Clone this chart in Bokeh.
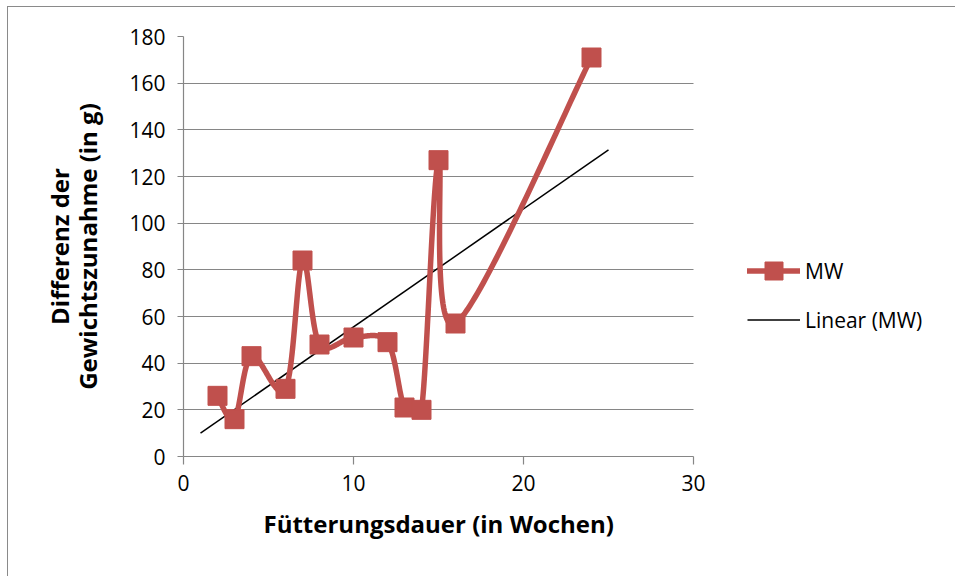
import numpy as np
from bokeh.plotting import figure
from bokeh.models import Legend, LegendItem, FixedTicker, Range1d, Title
from bokeh.embed import file_html
from bokeh.resources import INLINE

# ---- data ----
weeks = [2, 3, 4, 6, 7, 8, 10, 12, 13, 14, 15, 16, 24]
mw = [26, 16, 43, 29, 84, 48, 51, 49, 21, 20, 127, 57, 171]
trend_x = [1, 25]
trend_y = [10, 131.4]
x_ticks = [0, 10, 20, 30]
y_ticks = [0, 20, 40, 60, 80, 100, 120, 140, 160, 180]
x_title = "Fütterungsdauer (in Wochen)"
y_title = "Differenz der\nGewichtszunahme (in g)"
series_names = ["MW", "Linear (MW)"]

RED = "#C0504D"
GRID = "#868686"
FONT = "Open Sans"

W, H = 948, 570
ML, MT, MB = 175, 29, 121
AXIS_W = 510                      # pixel width of the 0..30 axis
X0, X1, Y0, Y1 = 0, 30, 0, 180
kx = AXIS_W / (X1 - X0)
ky = (H - MT - MB) / (Y1 - Y0)
X_END = (W - ML) / kx             # frame extends to the right edge so the legend is not clipped

# smoothed line (Bezier through the data points, with Excel-like limited control arms)
x = np.array(weeks, float) * kx
y = np.array(mw, float) * ky
n = len(x)
xp = np.concatenate([[x[0]], x, [x[-1]]])
yp = np.concatenate([[y[0]], y, [y[-1]]])
sx, sy = [], []
t = np.linspace(0, 1, 50)
for i in range(n - 1):
    p0 = np.array([xp[i + 1], yp[i + 1]])
    p3 = np.array([xp[i + 2], yp[i + 2]])
    seg = np.hypot(*(p3 - p0))
    a1 = (np.array([xp[i + 2], yp[i + 2]]) - np.array([xp[i], yp[i]])) / 6
    a2 = (np.array([xp[i + 3], yp[i + 3]]) - np.array([xp[i + 1], yp[i + 1]])) / 6
    lim = 0.4 * seg
    for a in (a1, a2):
        L = np.hypot(*a)
        if L > lim and L > 0:
            a *= lim / L
    c1 = p0 + a1
    c2 = p3 - a2
    b = ((1 - t) ** 3)[:, None] * p0 + (3 * (1 - t) ** 2 * t)[:, None] * c1 + \
        (3 * (1 - t) * t ** 2)[:, None] * c2 + (t ** 3)[:, None] * p3
    if i > 0:
        b = b[1:]
    sx.extend((b[:, 0] / kx).tolist())
    sy.extend((b[:, 1] / ky).tolist())

p = figure(width=W, height=H, output_backend="svg", toolbar_location=None,
           x_range=Range1d(X0, X_END), y_range=Range1d(Y0, Y1),
           min_border_left=ML, min_border_right=0, min_border_top=MT, min_border_bottom=MB)
p.styles = {"margin-left": "7px", "margin-top": "6px",
            "border-left": "1px solid #8a8a8a", "border-top": "1px solid #8a8a8a"}
p.outline_line_color = None
p.background_fill_color = "white"
p.border_fill_color = "white"

p.xgrid.grid_line_color = None
p.ygrid.grid_line_color = GRID
p.ygrid.grid_line_width = 1.2
p.ygrid.cross_bounds = (X0, X1)

p.xaxis.ticker = FixedTicker(ticks=x_ticks)
p.yaxis.ticker = FixedTicker(ticks=y_ticks)
p.xaxis.bounds = (X0, X1)
for ax in (p.xaxis, p.yaxis):
    ax.axis_line_color = GRID
    ax.axis_line_width = 1.2
    ax.major_tick_line_color = GRID
    ax.major_tick_line_width = 1.2
    ax.major_tick_in = 0
    ax.minor_tick_line_color = None
    ax.major_label_text_font = FONT
    ax.major_label_text_font_size = "21px"
    ax.major_label_text_color = "black"
    ax.axis_label_text_font = FONT
    ax.axis_label_text_font_size = "24px"
    ax.axis_label_text_font_style = "bold"
    ax.axis_label_text_color = "black"
    ax.axis_label_text_line_height = 0.86
p.xaxis.major_tick_out = 8
p.yaxis.major_tick_out = 6
p.xaxis.major_label_standoff = 10
p.yaxis.major_label_standoff = 12
p.yaxis.axis_label = y_title
p.yaxis.axis_label_standoff = 22

# x-axis title centred under the bounded 0..30 axis
xt = Title(text=x_title, align="left", offset=80, standoff=22,
           text_font=FONT, text_font_size="24px", text_font_style="bold", text_color="black")
p.add_layout(xt, "below")

trend = p.line(trend_x, trend_y, line_color="black", line_width=1.5)
smooth = p.line(sx, sy, line_color=RED, line_width=5.5, line_join="round", line_cap="round")
pts = p.scatter(weeks, mw, marker="square", size=19, fill_color=RED, line_color=RED)

legend = Legend(items=[LegendItem(label=series_names[0], renderers=[smooth, pts]),
                       LegendItem(label=series_names[1], renderers=[trend])],
                location=(564, 114), orientation="vertical",
                border_line_color=None, background_fill_alpha=0,
                padding=0, margin=0, spacing=4,
                glyph_width=53, glyph_height=45, label_height=45,
                label_standoff=5, label_text_font=FONT, label_text_font_size="21px",
                label_text_color="black")
p.add_layout(legend, "center")

open("out.html", "w").write(file_html(p, INLINE))
